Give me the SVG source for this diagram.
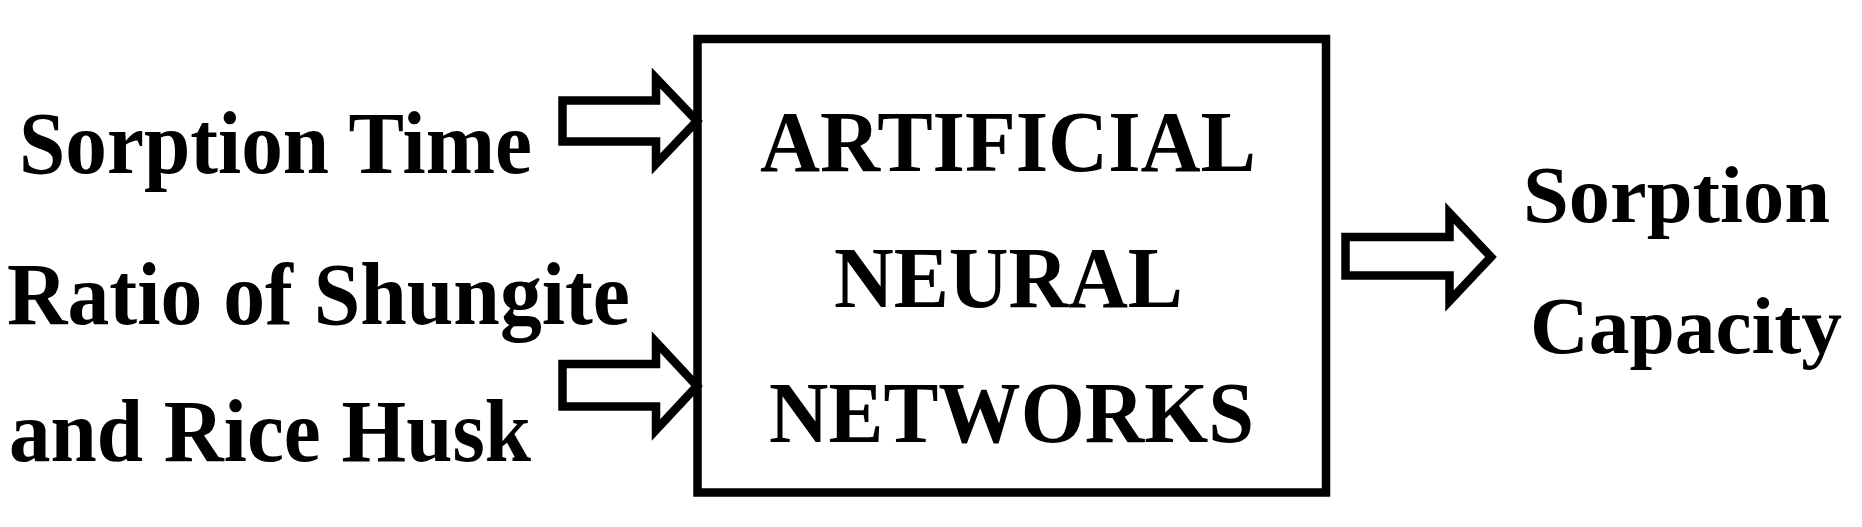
<svg xmlns="http://www.w3.org/2000/svg" width="1862" height="527" viewBox="0 0 1862 527">
<style>
.t{font-family:"Liberation Serif","Times New Roman",serif;font-weight:bold;fill:#000}
.l{font-size:88px}
.r{font-size:80px}
.c{font-size:86px}
.arr{fill:#fff;stroke:#000;stroke-width:8.5;stroke-linejoin:miter}
</style>
<rect width="1862" height="527" fill="#fff"/>
<g id="input-time">
<text class="t l" x="19" y="173" textLength="513" lengthAdjust="spacingAndGlyphs">Sorption Time</text>
</g>
<g id="input-ratio">
<text class="t l" x="7" y="324" textLength="623" lengthAdjust="spacingAndGlyphs">Ratio of Shungite</text>
<text class="t l" x="9" y="461" textLength="522" lengthAdjust="spacingAndGlyphs">and Rice Husk</text>
</g>
<g id="ann">
<rect x="697.5" y="39" width="628.5" height="453.5" fill="none" stroke="#000" stroke-width="8.5"/>
<text class="t c" x="760" y="171" textLength="496" lengthAdjust="spacingAndGlyphs">ARTIFICIAL</text>
<text class="t c" x="834" y="307" textLength="349" lengthAdjust="spacingAndGlyphs">NEURAL</text>
<text class="t c" x="769" y="442" textLength="485" lengthAdjust="spacingAndGlyphs">NETWORKS</text>
</g>
<g id="output">
<text class="t r" x="1523" y="222" textLength="307" lengthAdjust="spacingAndGlyphs">Sorption</text>
<text class="t r" x="1530" y="353" textLength="312" lengthAdjust="spacingAndGlyphs">Capacity</text>
</g>
<g id="connectors">
<path class="arr" d="M562.5,100.5 H656 V78 L697,121 L656,164 V141.5 H562.5 Z"/>
<path class="arr" d="M562.5,364 H656 V342 L697,386 L656,430 V406.5 H562.5 Z"/>
<path class="arr" d="M1345.5,237 H1449.5 V213 L1491,257 L1449.5,301 V275.5 H1345.5 Z"/>
</g>
</svg>
